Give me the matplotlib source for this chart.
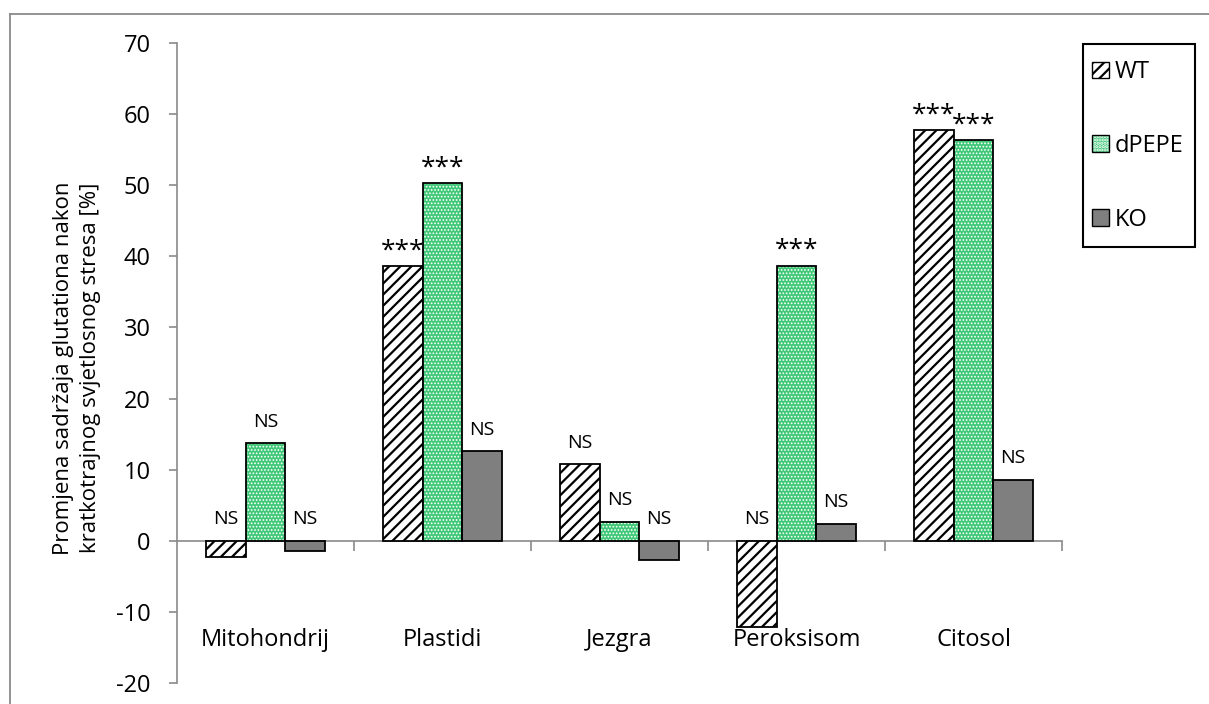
import matplotlib
matplotlib.use("Agg")
import matplotlib.pyplot as plt
import numpy as np
from matplotlib.patches import Patch, Rectangle
from matplotlib.lines import Line2D
from matplotlib.legend_handler import HandlerTuple

categories = ["Mitohondrij", "Plastidi", "Jezgra", "Peroksisom", "Citosol"]
wt = [-2.3, 38.6, 10.8, -12.1, 57.7]
dpepe = [13.7, 50.3, 2.7, 38.7, 56.4]
ko = [-1.5, 12.6, -2.7, 2.4, 8.6]
wt_sig = ["NS", "***", "NS", "NS", "***"]
dpepe_sig = ["NS", "***", "NS", "***", "***"]
ko_sig = ["NS", "NS", "NS", "NS", "NS"]
series_names = ["WT", "dPEPE", "KO"]
y_ticks = list(range(-20, 80, 10))

plt.rcParams['font.family'] = ['Open Sans', 'DejaVu Sans']
plt.rcParams['axes.unicode_minus'] = False
plt.rcParams['hatch.linewidth'] = 1.6

green = '#40c878'
grey_axis = '#8a8a8a'

W, H = 1209, 704
fig = plt.figure(figsize=(W / 100, H / 100), dpi=100)
ax = fig.add_axes([177 / W, 21 / H, 885 / W, 640 / H])

x = np.arange(len(categories))
w = 0.224

ax.bar(x - w, wt, w, color='white', edgecolor='black', hatch='///', linewidth=1.3, zorder=3)
with plt.rc_context({'hatch.linewidth': 0.8}):
    ax.bar(x, dpepe, w, color=green, edgecolor='white', hatch='.....', linewidth=0, zorder=3)
ax.bar(x, dpepe, w, fill=False, edgecolor='black', linewidth=1.3, zorder=4)
ax.bar(x + w, ko, w, color='#7f7f7f', edgecolor='black', linewidth=1.3, zorder=3)

# significance labels above bars (negative bars get label above zero)
for offs, vals, sigs in [(-w, wt, wt_sig), (0, dpepe, dpepe_sig), (w, ko, ko_sig)]:
    for xi, v, s in zip(x, vals, sigs):
        top = max(v, 0)
        if s == "NS":
            ax.text(xi + offs, top + 2.3, s, ha='center', va='baseline', fontsize=14)
        else:
            ax.text(xi + offs, top + 1.2, s, ha='center', va='baseline', fontsize=19)

ax.set_xlim(-0.5, len(categories) - 0.5)
ax.set_ylim(-20, 70)
ax.set_yticks(y_ticks)
ax.set_xticks(np.arange(0.5, len(categories), 1.0))
ax.set_xticklabels([])

for name in ['top', 'right']:
    ax.spines[name].set_visible(False)
ax.spines['left'].set_color(grey_axis)
ax.spines['bottom'].set_color(grey_axis)
ax.spines['bottom'].set_position(('data', 0))
ax.spines['left'].set_linewidth(1.2)
ax.spines['bottom'].set_linewidth(1.2)
ax.tick_params(axis='y', direction='out', length=6, width=1.2, color=grey_axis,
               labelsize=17, pad=13)
ax.tick_params(axis='x', direction='out', length=7, width=1.2, color=grey_axis)

for xi, c in zip(x, categories):
    ax.text(xi, -14, c, ha='center', va='center', fontsize=17)

fig.text(77 / W, 1 - 368 / H,
         "Promjena sadržaja glutationa nakon\nkratkotrajnog svjetlosnog stresa [%]",
         rotation=90, ha='center', va='center', fontsize=16, linespacing=1.35,
         multialignment='center')

# legend
with plt.rc_context({'hatch.linewidth': 0.8}):
    green_handle = Patch(facecolor=green, edgecolor='white', hatch='.....', linewidth=0)
handles = [
    Patch(facecolor='white', edgecolor='black', hatch='///', linewidth=1.0),
    (green_handle, Patch(fill=False, edgecolor='black', linewidth=1.0)),
    Patch(facecolor='#7f7f7f', edgecolor='black', linewidth=1.0),
]
fig.legend(handles, series_names, loc='center left',
           bbox_to_anchor=(1092 / W, 1 - 146 / H), frameon=False, fontsize=17,
           handlelength=0.7, handleheight=0.7, handletextpad=0.25,
           labelspacing=2.1, borderpad=0, borderaxespad=0,
           handler_map={tuple: HandlerTuple(ndivide=1, pad=0)})
fig.add_artist(Rectangle((1083 / W, 1 - 247 / H), 112 / W, 203 / H,
                         transform=fig.transFigure, fill=False,
                         edgecolor='black', linewidth=1.5))

# outer chart border (left and top visible)
fig.add_artist(Line2D([10 / W, 10 / W], [0, 1 - 14 / H], transform=fig.transFigure,
                      color=grey_axis, linewidth=1.3))
fig.add_artist(Line2D([10 / W, 1], [1 - 14 / H, 1 - 14 / H], transform=fig.transFigure,
                      color=grey_axis, linewidth=1.3))

fig.savefig("out.png", dpi=100)
